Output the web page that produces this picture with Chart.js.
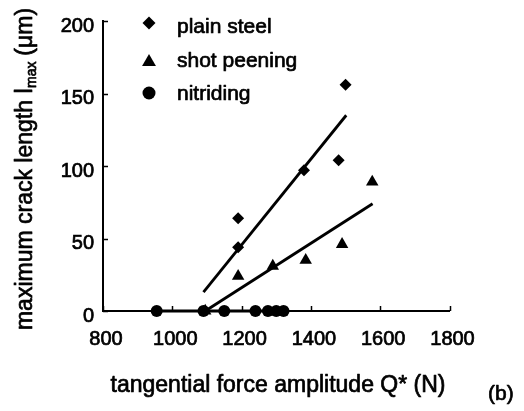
<!DOCTYPE html>
<html>
<head>
<meta charset="utf-8">
<title>maximum crack length vs tangential force amplitude</title>
<script src="https://cdn.jsdelivr.net/npm/chart.js@4.4.1/dist/chart.umd.min.js"></script>
<style>
  html, body { margin: 0; padding: 0; background: #fff; }
  #holder { position: relative; width: 524px; height: 411px; }
</style>
</head>
<body>
<div id="holder"><canvas id="chart"></canvas></div>
<script>
var xTicks = [800, 1000, 1200, 1400, 1600, 1800];
var yTicks = [0, 50, 100, 150, 200];

// measured points
var plainSteelQ = [1190, 1190, 1380, 1480, 1500];
var plainSteelL = [64, 44, 97, 104, 156];
var shotPeeningQ = [1095, 1190, 1290, 1385, 1490, 1577];
var shotPeeningL = [0, 24, 31, 35, 46, 89];
var nitridingQ = [955, 1090, 1150, 1240, 1276, 1300, 1321];
var nitridingL = [0, 0, 0, 0, 0, 0, 0];

// trend lines, end points
var plainSteelFitQ = [1090, 1502];
var plainSteelFitL = [13, 135];
var shotPeeningFitQ = [1095, 1578];
var shotPeeningFitL = [0, 74];
var nitridingFitQ = [955, 1321];
var nitridingFitL = [0, 0];

var FONT = "'Liberation Sans', Arial, Helvetica, sans-serif";
var TEXT_STROKE = 0.7; // the original print is a bit heavier than regular weight

function toPoints(xs, ys) {
  return xs.map(function(x, i) { return { x: x, y: ys[i] }; });
}

function markerSet(label, xs, ys, style, radius) {
  return {
    type: 'scatter',
    label: label,
    data: toPoints(xs, ys),
    pointStyle: style,
    pointRadius: radius,
    pointHoverRadius: radius,
    pointBackgroundColor: '#000',
    pointBorderWidth: 0,
    showLine: false,
    clip: false
  };
}

function fitLine(xs, ys) {
  return {
    type: 'line',
    label: '',
    data: toPoints(xs, ys),
    borderColor: '#000',
    borderWidth: 2.8,
    pointRadius: 0,
    fill: false,
    clip: false
  };
}

// legend rows inside the plot: marker style, radius, marker y, text baseline
var legendRows = [
  { label: 'plain steel', style: 'rectRot', radius: 6.5, my: 23, ty: 33 },
  { label: 'shot peening', style: 'triangle', radius: 8, my: 62, ty: 66.5 },
  { label: 'nitriding', style: 'circle', radius: 6.5, my: 93, ty: 99.5 }
];

function heavyText(ctx, text, x, y) {
  ctx.fillText(text, x, y);
  ctx.strokeText(text, x, y);
}

var decorations = {
  id: 'decorations',
  afterDraw: function(chart) {
    var ctx = chart.ctx;
    var xs = chart.scales.x;
    var ys = chart.scales.y;
    var area = chart.chartArea;

    ctx.save();
    // inward tick marks
    ctx.strokeStyle = '#000';
    ctx.lineWidth = 1.5;
    ctx.beginPath();
    xs.ticks.forEach(function(t) {
      var px = Math.round(xs.getPixelForValue(t.value)) + 0.5;
      ctx.moveTo(px, area.bottom);
      ctx.lineTo(px, area.bottom - 5);
    });
    ys.ticks.forEach(function(t) {
      var py = Math.round(ys.getPixelForValue(t.value)) + 0.5;
      ctx.moveTo(area.left, py);
      ctx.lineTo(area.left + 5, py);
    });
    ctx.stroke();

    ctx.fillStyle = '#000';
    ctx.lineWidth = TEXT_STROKE;
    ctx.lineJoin = 'round';

    // legend
    ctx.font = '21px ' + FONT;
    ctx.textAlign = 'left';
    ctx.textBaseline = 'alphabetic';
    legendRows.forEach(function(row) {
      Chart.helpers.drawPoint(ctx, { pointStyle: row.style, radius: row.radius, rotation: 0, borderWidth: 0 }, 149, row.my);
      heavyText(ctx, row.label, 177, row.ty);
    });

    // x axis title
    ctx.font = '23px ' + FONT;
    ctx.textAlign = 'center';
    heavyText(ctx, 'tangential force amplitude Q* (N)', 278, 392);

    // panel label
    ctx.font = '21px ' + FONT;
    ctx.textAlign = 'left';
    heavyText(ctx, '(b)', 488, 400);

    // y axis title with subscript
    var main1 = 'maximum crack length l';
    var sub = 'max';
    var main2 = ' (\u03bcm)';
    ctx.font = '23px ' + FONT;
    var w1 = ctx.measureText(main1).width;
    var w3 = ctx.measureText(main2).width;
    ctx.font = '14px ' + FONT;
    var w2 = ctx.measureText(sub).width;
    var total = w1 + w2 + w3;
    ctx.translate(32, 169);
    ctx.rotate(-Math.PI / 2);
    ctx.textAlign = 'left';
    ctx.font = '23px ' + FONT;
    heavyText(ctx, main1, -total / 2, 0);
    ctx.font = '14px ' + FONT;
    heavyText(ctx, sub, -total / 2 + w1 + 0.5, 4);
    ctx.font = '23px ' + FONT;
    heavyText(ctx, main2, -total / 2 + w1 + w2, 0);
    ctx.restore();
  }
};

var chart = new Chart(document.getElementById('chart'), {
  type: 'scatter',
  data: {
    datasets: [
      markerSet('plain steel', plainSteelQ, plainSteelL, 'rectRot', 6),
      markerSet('shot peening', shotPeeningQ, shotPeeningL, 'triangle', 7.2),
      markerSet('nitriding', nitridingQ, nitridingL, 'circle', 6),
      fitLine(plainSteelFitQ, plainSteelFitL),
      fitLine(shotPeeningFitQ, shotPeeningFitL),
      fitLine(nitridingFitQ, nitridingFitL)
    ]
  },
  options: {
    responsive: true,
    maintainAspectRatio: false,
    animation: false,
    layout: { padding: { left: 0, top: 10, right: 74.5, bottom: 0 } },
    plugins: {
      legend: { display: false },
      tooltip: { enabled: false }
    },
    scales: {
      x: {
        type: 'linear',
        min: xTicks[0],
        max: xTicks[xTicks.length - 1],
        afterBuildTicks: function(scale) {
          scale.ticks = xTicks.map(function(v) { return { value: v }; });
        },
        afterFit: function(scale) { scale.height = 100; },
        grid: { display: false, drawTicks: false },
        border: { display: true, color: '#000', width: 2 },
        ticks: {
          color: '#000',
          font: { family: FONT, size: 20 },
          textStrokeColor: '#000',
          textStrokeWidth: TEXT_STROKE,
          padding: 16,
          labelOffset: 3,
          maxRotation: 0,
          autoSkip: false,
          callback: function(v) { return String(v); }
        }
      },
      y: {
        type: 'linear',
        min: yTicks[0],
        max: yTicks[yTicks.length - 1],
        afterBuildTicks: function(scale) {
          scale.ticks = yTicks.map(function(v) { return { value: v }; });
        },
        afterFit: function(scale) { scale.width = 103; },
        grid: { display: false, drawTicks: false },
        border: { display: true, color: '#000', width: 2 },
        ticks: {
          color: '#000',
          font: { family: FONT, size: 20 },
          textStrokeColor: '#000',
          textStrokeWidth: TEXT_STROKE,
          padding: 9,
          labelOffset: 5,
          autoSkip: false,
          callback: function(v) { return String(v); }
        }
      }
    }
  },
  plugins: [decorations]
});
</script>
</body>
</html>
